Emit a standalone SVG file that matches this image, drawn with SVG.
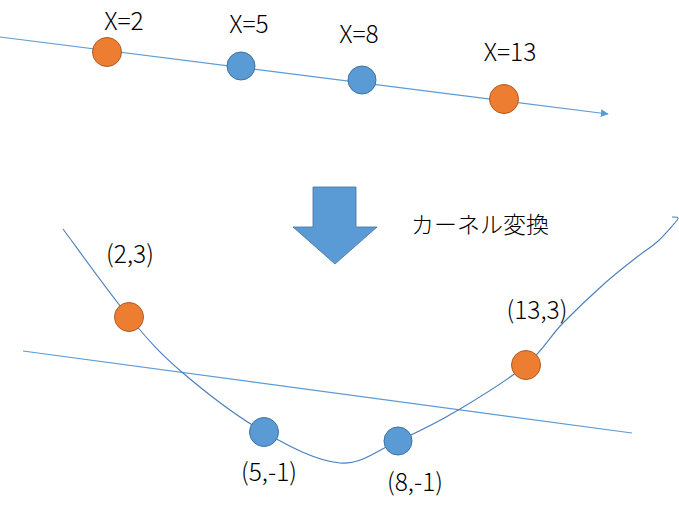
<svg xmlns="http://www.w3.org/2000/svg" width="679" height="514" viewBox="0 0 679 514">
<style>
.t{font-family:"Noto Sans CJK JP","Liberation Sans",sans-serif;font-size:24.5px;font-weight:300;fill:#000}
.j{font-size:23px}
.or{fill:#ED7D31;stroke:#AE5A21;stroke-width:1}
.bl{fill:#5B9BD5;stroke:#41719C;stroke-width:1}
.ln{fill:none;stroke:#5B9BD5;stroke-width:1.2}
.cv{fill:none;stroke:#4A7EBB;stroke-width:1.1}
</style>
<defs>
<marker id="ah" viewBox="0 0 10 10" refX="9" refY="5" markerWidth="8" markerHeight="8" markerUnits="userSpaceOnUse" orient="auto">
<path d="M0,0 L10,5 L0,10 z" fill="#5B9BD5"/>
</marker>
</defs>
<rect width="679" height="514" fill="#fff"/>
<g id="connectors">
<line class="ln" x1="0" y1="37" x2="608" y2="114" marker-end="url(#ah)"/>
<line class="ln" x1="23" y1="351" x2="632" y2="433"/>
<path class="cv" d="M63,229 C74,243.7 109,293 129,317 C149,341 160.5,353.8 183,373 C205.5,392.2 237.8,417 264,432 C290.2,447 317.7,461.5 340,463 C362.3,464.5 378,450 398,441 C418,432 438.7,421.7 460,409 C481.3,396.3 508.8,379.3 526,365 C543.2,350.7 549.5,336.8 563,323 C576.5,309.3 592.7,294 605,283 C617.3,272 628.3,263.8 637,257 C645.7,250.2 651,247.3 657,242 C663,236.7 669.5,229 673,225 C676.5,221 678.2,219.3 678,218 C677.8,216.7 673,217.2 672,217"/>
</g>
<g id="arrow">
<path d="M313,187 L356,187 L356,227 L377,227 L335,264 L293,227 L313,227 z" fill="#5B9BD5" stroke="#41719C" stroke-width="0.8"/>
</g>
<g id="n1"><circle class="or" cx="107" cy="52" r="14.5"/><text class="t" x="124" y="30" text-anchor="middle">X=2</text></g>
<g id="n2"><circle class="bl" cx="241" cy="66" r="14"/><text class="t" x="249" y="33" text-anchor="middle">X=5</text></g>
<g id="n3"><circle class="bl" cx="362" cy="80" r="14"/><text class="t" x="359" y="43" text-anchor="middle">X=8</text></g>
<g id="n4"><circle class="or" cx="504" cy="99" r="14.5"/><text class="t" x="510" y="61" text-anchor="middle">X=13</text></g>
<g id="label"><text class="t j" x="411" y="233">カーネル変換</text></g>
<g id="m1"><circle class="or" cx="129" cy="317" r="14.5"/><text class="t" x="130" y="263" text-anchor="middle">(2,3)</text></g>
<g id="m2"><circle class="bl" cx="264" cy="432" r="14.5"/><text class="t" x="269" y="481" text-anchor="middle">(5,-1)</text></g>
<g id="m3"><circle class="bl" cx="398" cy="441" r="14"/><text class="t" x="415" y="491" text-anchor="middle">(8,-1)</text></g>
<g id="m4"><circle class="or" cx="526" cy="365" r="14.5"/><text class="t" x="537" y="319" text-anchor="middle">(13,3)</text></g>
</svg>
